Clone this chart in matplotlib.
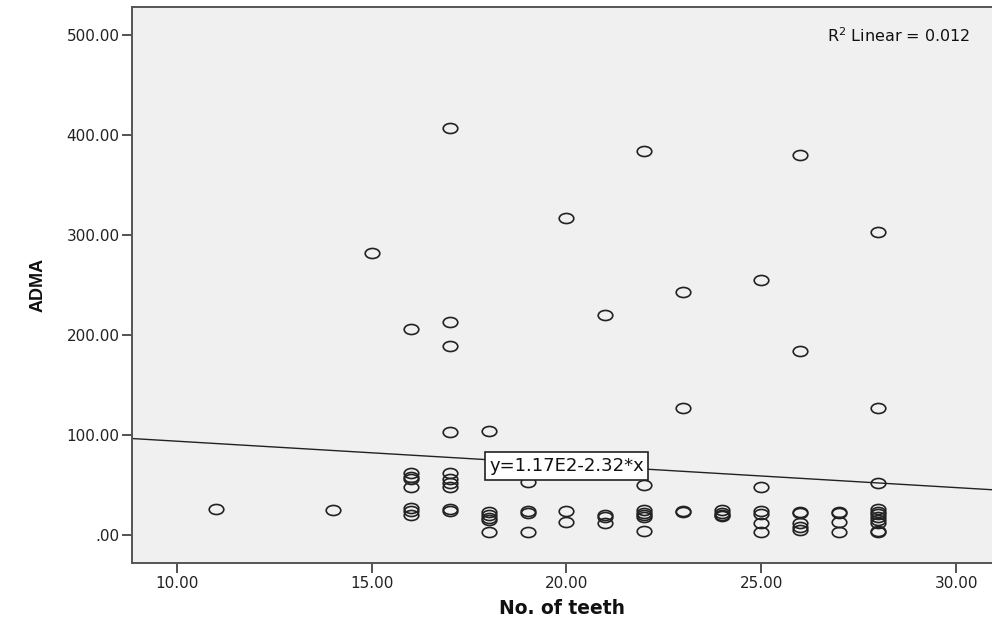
import matplotlib
matplotlib.use("Agg")
import matplotlib.pyplot as plt
import numpy as np
from matplotlib.path import Path
from matplotlib.transforms import Affine2D

# number of teeth -> ADMA readings for each subject at that tooth count
teeth_groups = [11, 14, 15, 16, 17, 18, 19, 20, 21, 22, 23, 24, 25, 26, 27, 28]
adma_groups = [
    [26],
    [25],
    [282],
    [206, 62, 58, 56, 48, 27, 24, 20],
    [407, 213, 189, 103, 62, 56, 52, 48, 26, 24],
    [104, 23, 20, 17, 15, 3],
    [53, 24, 22, 3],
    [317, 24, 13],
    [220, 20, 18, 12],
    [384, 50, 25, 22, 20, 18, 4],
    [243, 127, 24, 23],
    [25, 22, 20, 19],
    [255, 48, 24, 21, 12, 3],
    [380, 184, 23, 22, 12, 8, 5],
    [23, 22, 13, 3],
    [303, 127, 52, 26, 23, 21, 18, 15, 12, 4, 3],
]

# fitted line y = b0 + b1 * x
intercept = 117.0
slope = -2.32
r_squared = 0.012

x_ticks = [10, 15, 20, 25, 30]
y_ticks = [0, 100, 200, 300, 400, 500]

teeth = np.concatenate([[t] * len(v) for t, v in zip(teeth_groups, adma_groups)])
adma = np.concatenate([np.array(v, dtype=float) for v in adma_groups])

fig = plt.figure(figsize=(9.92, 6.26), dpi=100)
ax = fig.add_axes([132 / 992, 63 / 626, 1 - 132 / 992, 556 / 626])
ax.set_facecolor("#f0f0f0")

xmin, xmax = 8.85, 30.92
ax.set_xlim(xmin, xmax)
ax.set_ylim(-28, 528)

# slightly flattened open circles
ellipse = Path.unit_circle().transformed(Affine2D().scale(1.45, 1.0))
ax.plot(teeth, adma, linestyle="none", marker=ellipse, markersize=10.5,
        markerfacecolor="none", markeredgecolor="#222222", markeredgewidth=1.2,
        zorder=3)

xs = np.array([xmin, xmax])
ax.plot(xs, intercept + slope * xs, color="#222222", linewidth=1.0, zorder=2)

ax.text(20.0, 69, "y=1.17E2-2.32*x", ha="center", va="center",
        fontsize=13, family="DejaVu Sans", color="#111111", zorder=4,
        bbox=dict(boxstyle="square,pad=0.25", facecolor="white",
                  edgecolor="#222222", linewidth=1.2))

ax.text(0.975, 0.965, "R$^2$ Linear = %.3f" % r_squared, transform=ax.transAxes,
        ha="right", va="top", fontsize=11.5, family="DejaVu Sans", color="#111111")

ax.set_xticks(x_ticks)
ax.set_xticklabels(["%.2f" % v for v in x_ticks])
ax.set_yticks(y_ticks)
ax.set_yticklabels([".00" if v == 0 else "%.2f" % v for v in y_ticks])
ax.tick_params(direction="out", length=7, width=1.3, color="#444444",
               labelsize=11, labelcolor="#222222", pad=2)
for lab in ax.get_xticklabels() + ax.get_yticklabels():
    lab.set_family("DejaVu Sans")

for side in ["left", "bottom", "top"]:
    ax.spines[side].set_color("#555555")
    ax.spines[side].set_linewidth(1.4)
ax.spines["right"].set_visible(False)

ax.set_xlabel("No. of teeth", fontsize=13.5, fontweight="bold",
              family="DejaVu Sans", labelpad=6, color="#111111")
ax.set_ylabel("ADMA", fontsize=13, fontweight="bold",
              family="Liberation Sans", labelpad=14, color="#111111")

fig.savefig("out.png", dpi=100, facecolor="white")
